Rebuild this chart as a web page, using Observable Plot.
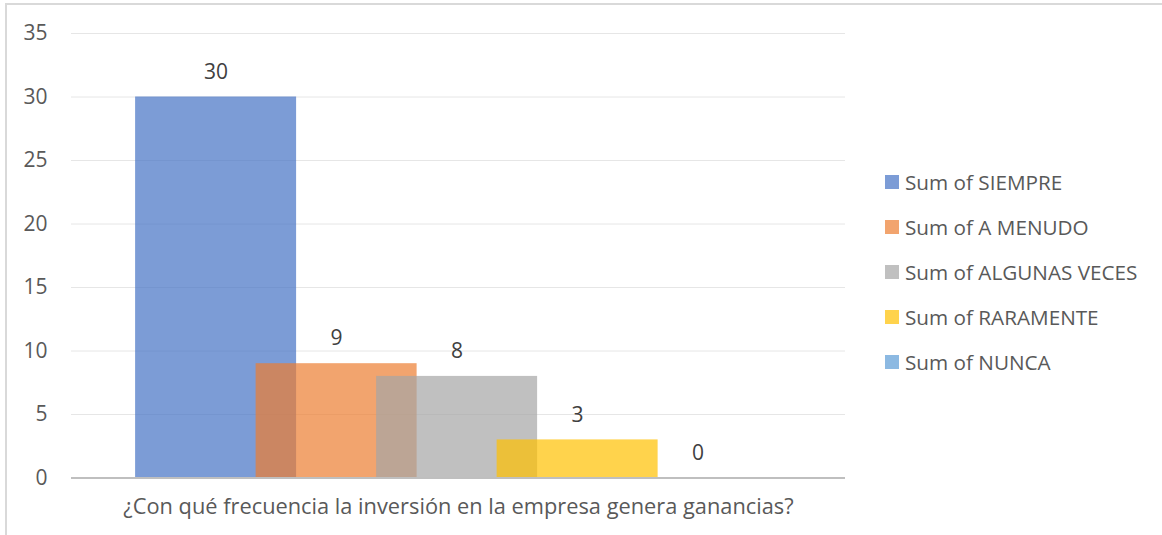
<!DOCTYPE html>
<html>
<head>
<meta charset="utf-8">
<script src="https://cdn.jsdelivr.net/npm/d3@7"></script>
<script src="https://cdn.jsdelivr.net/npm/@observablehq/plot@0.6"></script>
<style>
  html, body { margin: 0; padding: 0; background: #fff; }
  body { width: 1162px; height: 535px; position: relative; overflow: hidden; font-family: "Open Sans", Lato, sans-serif; }
  #frame { position: absolute; left: 5px; top: 3px; width: 1200px; height: 600px; border: 2px solid #d9d9d9; box-sizing: border-box; }
  #chart { position: absolute; left: 0; top: 0; }
  #legend { position: absolute; left: 885px; top: 0; }
  .item { position: absolute; left: 0; white-space: nowrap; display: flex; align-items: center; font-size: 20.7px; color: #595959; }
  .sw { width: 14px; height: 14px; margin-right: 6px; flex: none; }
</style>
</head>
<body>
<div id="frame"></div>
<div id="chart"></div>
<div id="legend"></div>
<script>
const categories = ["Sum of SIEMPRE", "Sum of A MENUDO", "Sum of ALGUNAS VECES", "Sum of RARAMENTE", "Sum of NUNCA"];
const values = [30, 9, 8, 3, 0];
const colors = ["#4472C4", "#ED7D31", "#A5A5A5", "#FFC000", "#5B9BD5"];
const yTicks = [0, 5, 10, 15, 20, 25, 30, 35];
const axisTitle = "¿Con qué frecuencia la inversión en la empresa genera ganancias?";

const data = categories.map((c, i) => ({series: c, value: values[i], i}));
const half = 0.668;

const chart = Plot.plot({
  width: 1162,
  height: 535,
  marginLeft: 71,
  marginRight: 317,
  marginTop: 33,
  marginBottom: 57.5,
  style: {fontFamily: "'Open Sans', Lato, sans-serif", fontSize: "21px", background: "transparent"},
  x: {domain: [-1.2, 5.223], axis: null},
  y: {domain: [0, 35]},
  color: {domain: categories, range: colors},
  marks: [
    Plot.gridY(yTicks, {stroke: "#e6e6e6", strokeOpacity: 1, strokeWidth: 1}),
    Plot.axisY(yTicks, {tickSize: 0, tickPadding: 24, fontSize: 21, fill: "#595959", label: null}),
    Plot.rect(data, {x1: d => d.i - half, x2: d => d.i + half, y1: d => 0, y2: "value", fill: "series", fillOpacity: 0.7}),
    Plot.ruleY([0], {stroke: "#bfbfbf", strokeWidth: 2}),
    Plot.text(data, {x: "i", y: "value", text: d => String(d.value), dy: -25, fontSize: 21, fill: "#404040"}),
    Plot.text([axisTitle], {frameAnchor: "bottom", text: d => d, dy: 35.5, fontSize: 21.8, fill: "#595959"})
  ]
});
document.getElementById("chart").appendChild(chart);

const legend = document.getElementById("legend");
categories.forEach((c, i) => {
  const row = document.createElement("div");
  row.className = "item";
  row.style.top = (182 + 45.1 * i - 14) + "px";
  row.style.height = "28px";
  const sw = document.createElement("div");
  sw.className = "sw";
  sw.style.background = colors[i];
  sw.style.opacity = 0.7;
  const t = document.createElement("span");
  t.textContent = c;
  row.appendChild(sw);
  row.appendChild(t);
  legend.appendChild(row);
});
</script>
</body>
</html>
